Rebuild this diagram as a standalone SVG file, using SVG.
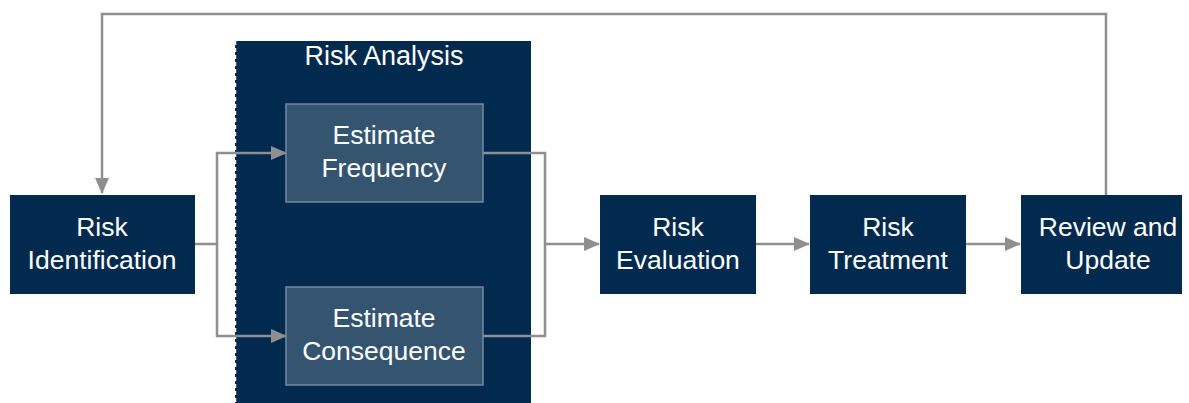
<svg xmlns="http://www.w3.org/2000/svg" width="1189" height="403" viewBox="0 0 1189 403">
<defs>
<style>
.node{fill:#022a4e;}
.sub{fill:#34546f;stroke:#7389a0;stroke-width:1.5;}
.lbl{font-family:"Liberation Sans",Arial,sans-serif;font-size:26.5px;fill:#ffffff;text-anchor:middle;}
.conn{fill:none;stroke:#8f8f8f;stroke-width:2.5;}
</style>
<marker id="ah" viewBox="0 0 16 16" refX="15" refY="8" markerWidth="16" markerHeight="16" orient="auto" markerUnits="userSpaceOnUse">
<path d="M0,1 L16,8 L0,15 Z" fill="#8f8f8f"/>
</marker>
</defs>
<rect width="1189" height="403" fill="#ffffff"/>
<g id="risk-analysis">
<rect x="235" y="41" width="296" height="370" class="node"/>
<line x1="235.5" y1="41" x2="235.5" y2="403" stroke="#ffffff" stroke-width="1.5" stroke-dasharray="4,3"/>
<text x="384" y="65" class="lbl" style="font-size:27px">Risk Analysis</text>
</g>
<g id="connectors">
<polyline class="conn" points="1106,195 1106,14 102,14 102,193" marker-end="url(#ah)"/>
<polyline class="conn" points="194,244 217,244 217,153 286,153" marker-end="url(#ah)"/>
<polyline class="conn" points="217,244 217,336 286,336" marker-end="url(#ah)"/>
<polyline class="conn" points="483,153 545,153 545,336 483,336"/>
<line class="conn" x1="545" y1="244" x2="599" y2="244" marker-end="url(#ah)"/>
<line class="conn" x1="756" y1="244" x2="809" y2="244" marker-end="url(#ah)"/>
<line class="conn" x1="966" y1="244" x2="1020" y2="244" marker-end="url(#ah)"/>
</g>
<g id="estimate-frequency">
<rect x="286" y="104" width="197" height="98" class="sub"/>
<text x="384" y="144" class="lbl">Estimate</text>
<text x="384" y="177" class="lbl">Frequency</text>
</g>
<g id="estimate-consequence">
<rect x="286" y="287" width="197" height="98" class="sub"/>
<text x="384" y="327" class="lbl">Estimate</text>
<text x="384" y="360" class="lbl">Consequence</text>
</g>
<g id="risk-identification">
<rect x="10" y="195" width="185" height="99" class="node"/>
<text x="102" y="236" class="lbl">Risk</text>
<text x="102" y="269" class="lbl">Identification</text>
</g>
<g id="risk-evaluation">
<rect x="600" y="195" width="156" height="99" class="node"/>
<text x="678" y="236" class="lbl">Risk</text>
<text x="678" y="269" class="lbl">Evaluation</text>
</g>
<g id="risk-treatment">
<rect x="810" y="195" width="156" height="99" class="node"/>
<text x="888" y="236" class="lbl">Risk</text>
<text x="888" y="269" class="lbl">Treatment</text>
</g>
<g id="review-and-update">
<rect x="1021" y="195" width="161" height="99" class="node"/>
<text x="1108" y="236" class="lbl">Review and</text>
<text x="1108" y="269" class="lbl">Update</text>
</g>
</svg>
